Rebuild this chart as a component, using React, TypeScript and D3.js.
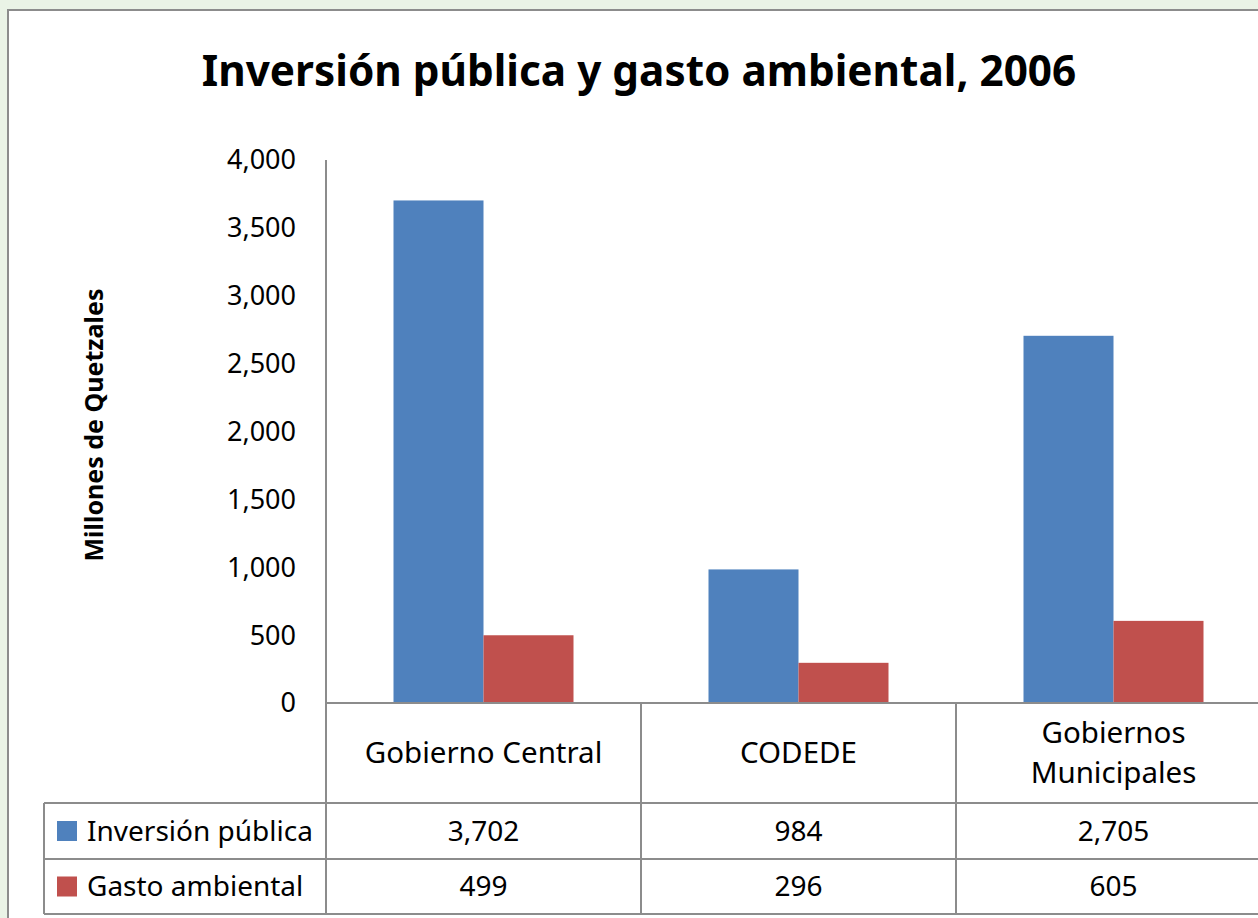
import React from "react";
import * as d3 from "d3";

const categories = ["Gobierno Central", "CODEDE", "Gobiernos Municipales"];
const categoryLines = [["Gobierno Central"], ["CODEDE"], ["Gobiernos", "Municipales"]];
const seriesNames = ["Inversión pública", "Gasto ambiental"];
const inversion = [3702, 984, 2705];
const gasto = [499, 296, 605];
const valueLabels = [["3,702", "984", "2,705"], ["499", "296", "605"]];
const yTicks = [0, 500, 1000, 1500, 2000, 2500, 3000, 3500, 4000];
const colors = ["#4F81BD", "#C0504D"];

const W = 1258;
const H = 918;
const FONT = "'Noto Sans', 'Open Sans', sans-serif";

export default function App() {
  const plotLeft = 326;
  const plotTop = 160;
  const plotBottom = 703;
  const bandW = 315;
  const y = d3.scaleLinear().domain([0, 4000]).range([plotBottom, plotTop]);
  const x0 = d3
    .scaleBand<string>()
    .domain(categories)
    .range([plotLeft, plotLeft + bandW * categories.length])
    .padding(0);
  const bw = x0.bandwidth();
  const x1 = d3
    .scaleBand<string>()
    .domain(seriesNames)
    .range([(bw - 180) / 2, (bw + 180) / 2])
    .padding(0);
  const seriesValues = [inversion, gasto];
  const fmt = d3.format(",");
  const rowCat = 803;
  const row1 = 859;
  const row2 = 914;
  const legendLeft = 44;
  const grid = "#8c8c8c";

  return (
    <svg
      width={W}
      height={H}
      style={{ position: "absolute", left: 0, top: 0, display: "block" }}
      fontFamily={FONT}
    >
      <rect x={0} y={0} width={W} height={H} fill="#eaf3e6" />
      <rect x={8} y={10} width={W + 10} height={H + 10} fill="#ffffff" stroke={grid} strokeWidth={2} />

      <text x={639} y={86} textAnchor="middle" fontSize={42.3} fontWeight="bold" fill="#000">
        Inversión pública y gasto ambiental, 2006
      </text>

      <text
        transform={`translate(103, 425) rotate(-90)`}
        textAnchor="middle"
        fontSize={25}
        fontWeight="bold"
        fill="#000"
      >
        Millones de Quetzales
      </text>

      {yTicks.map((t) => (
        <text key={t} x={296} y={y(t)} dy="0.35em" textAnchor="end" fontSize={27} fill="#000">
          {fmt(t)}
        </text>
      ))}

      {categories.map((c, ci) =>
        seriesNames.map((s, si) => {
          const v = seriesValues[si][ci];
          return (
            <rect
              key={c + s}
              x={(x0(c) as number) + (x1(s) as number)}
              y={y(v)}
              width={x1.bandwidth()}
              height={y(0) - y(v)}
              fill={colors[si]}
            />
          );
        })
      )}

      <line x1={plotLeft} x2={plotLeft} y1={plotTop} y2={row2} stroke={grid} strokeWidth={2} />
      <line x1={plotLeft} x2={W} y1={plotBottom} y2={plotBottom} stroke={grid} strokeWidth={2} />
      <line x1={legendLeft} x2={W} y1={rowCat} y2={rowCat} stroke={grid} strokeWidth={2} />
      <line x1={legendLeft} x2={W} y1={row1} y2={row1} stroke={grid} strokeWidth={2} />
      <line x1={legendLeft} x2={W} y1={row2} y2={row2} stroke={grid} strokeWidth={2} />
      <line x1={legendLeft} x2={legendLeft} y1={rowCat} y2={row2} stroke={grid} strokeWidth={2} />
      {categories.map((c) => (
        <line
          key={"v" + c}
          x1={(x0(c) as number) + bw}
          x2={(x0(c) as number) + bw}
          y1={plotBottom}
          y2={row2}
          stroke={grid}
          strokeWidth={2}
        />
      ))}

      {categories.map((c, ci) => {
        const lines = categoryLines[ci];
        const cx = (x0(c) as number) + bw / 2;
        const cy = (plotBottom + rowCat) / 2;
        const lh = 40;
        return (
          <text key={"cl" + c} textAnchor="middle" fontSize={29.5} fill="#000">
            {lines.map((l, li) => (
              <tspan key={li} x={cx} y={cy + (li - (lines.length - 1) / 2) * lh} dy="0.35em">
                {l}
              </tspan>
            ))}
          </text>
        );
      })}

      {seriesNames.map((s, si) => {
        const top = si === 0 ? rowCat : row1;
        const bottom = si === 0 ? row1 : row2;
        const cy = (top + bottom) / 2;
        return (
          <g key={"row" + s}>
            <rect x={57} y={cy - 10} width={20} height={20} fill={colors[si]} />
            <text x={87} y={cy} dy="0.35em" fontSize={28} fill="#000">
              {s}
            </text>
            {categories.map((c, ci) => (
              <text
                key={c}
                x={(x0(c) as number) + bw / 2}
                y={cy}
                dy="0.35em"
                textAnchor="middle"
                fontSize={28}
                fill="#000"
              >
                {valueLabels[si][ci]}
              </text>
            ))}
          </g>
        );
      })}
    </svg>
  );
}
